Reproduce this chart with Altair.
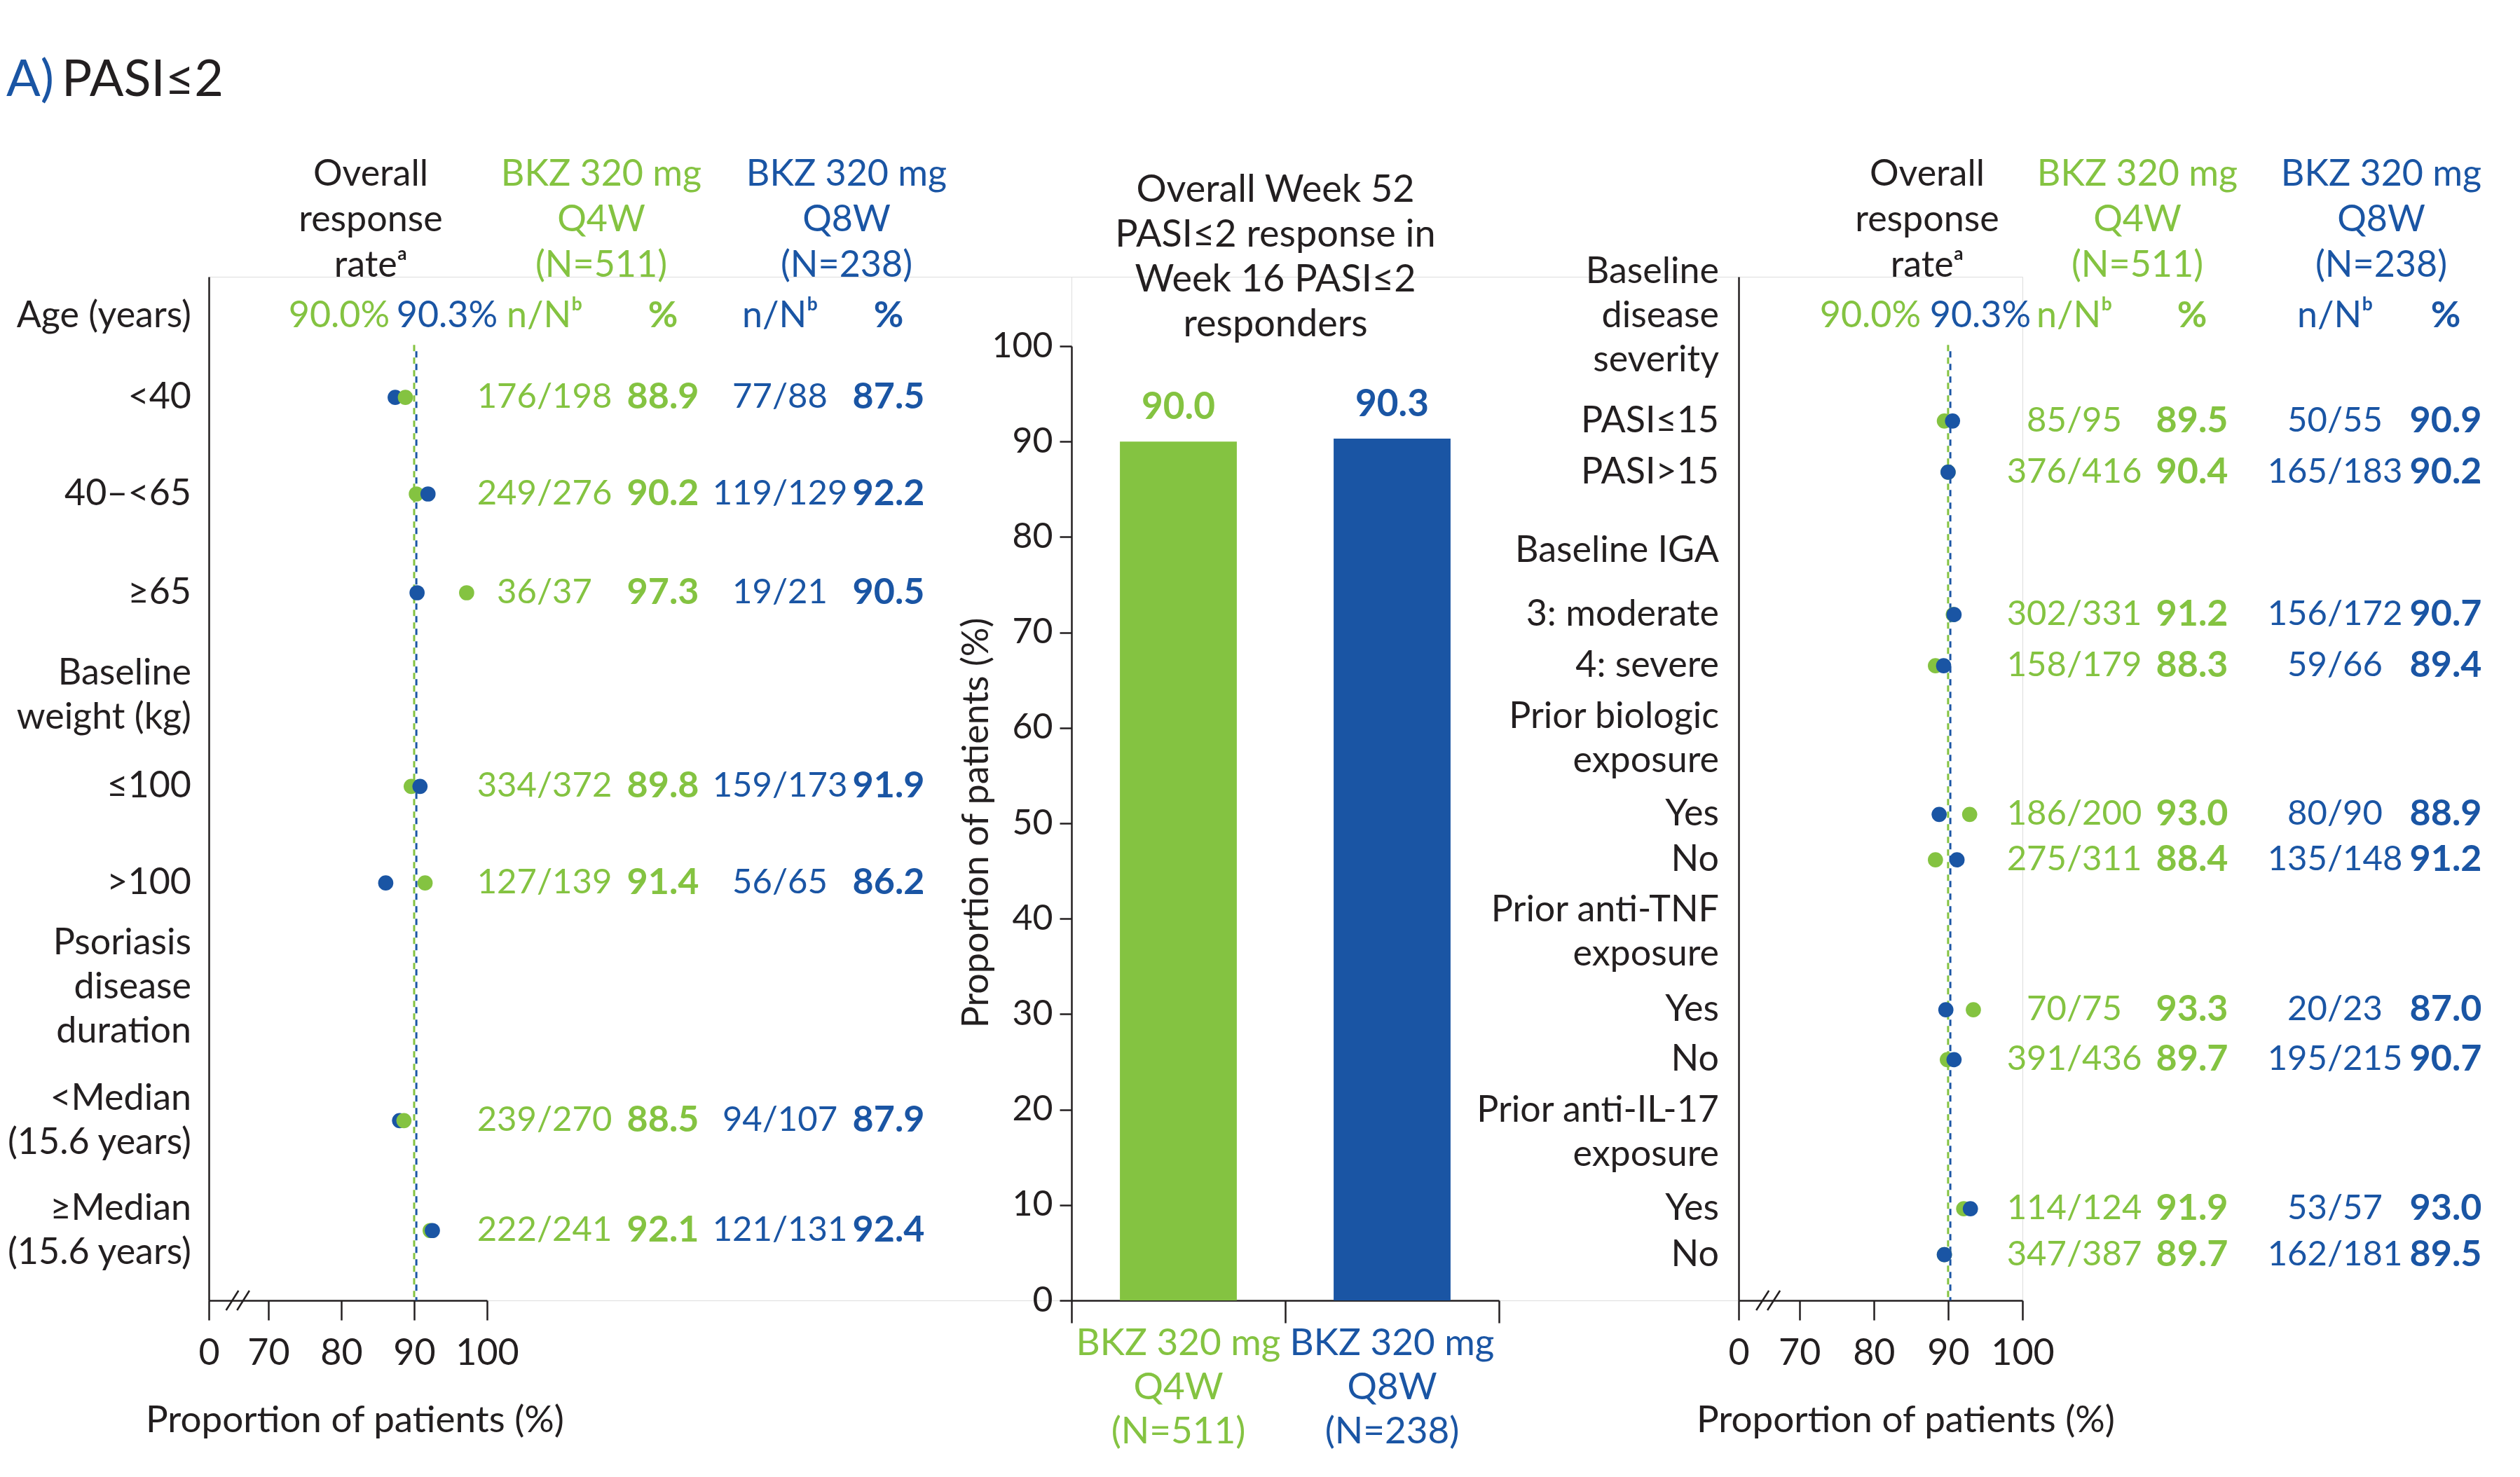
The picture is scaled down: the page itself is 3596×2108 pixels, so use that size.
import altair as alt
import pandas as pd

GREEN = "#84C341"
BLUE = "#1A55A4"
BLACK = "#231F20"
FONT = "Lato"

# ------------------------------------------------------------------ data
overall_rate = {"Q4W": 90.0, "Q8W": 90.3}

arm_keys = ["Q4W", "Q8W"]
arm_labels = ["BKZ 320 mg\nQ4W\n(N=511)", "BKZ 320 mg\nQ8W\n(N=238)"]
week52_response = [90.0, 90.3]

left_groups = ["Age (years)", "Baseline\nweight (kg)", "Psoriasis\ndisease\nduration"]
left_labels = ["<40", "40–<65", "≥65", "≤100", ">100",
               "<Median\n(15.6 years)", "≥Median\n(15.6 years)"]
left_q4w_nN = ["176/198", "249/276", "36/37", "334/372", "127/139", "239/270", "222/241"]
left_q4w_pct = [88.9, 90.2, 97.3, 89.8, 91.4, 88.5, 92.1]
left_q8w_nN = ["77/88", "119/129", "19/21", "159/173", "56/65", "94/107", "121/131"]
left_q8w_pct = [87.5, 92.2, 90.5, 91.9, 86.2, 87.9, 92.4]
# dot positions as drawn in the figure
left_q4w_dot = [88.8, 90.3, 97.2, 89.6, 91.5, 88.6, 92.2]
left_q8w_dot = [87.4, 91.9, 90.4, 90.8, 86.1, 88.0, 92.5]

right_groups = ["Baseline\ndisease\nseverity", "Baseline IGA", "Prior biologic\nexposure",
                "Prior anti-TNF\nexposure", "Prior anti-IL-17\nexposure"]
right_labels = ["PASI≤15", "PASI>15", "3: moderate", "4: severe",
                "Yes", "No", "Yes", "No", "Yes", "No"]
right_q4w_nN = ["85/95", "376/416", "302/331", "158/179", "186/200", "275/311",
                "70/75", "391/436", "114/124", "347/387"]
right_q4w_pct = [89.5, 90.4, 91.2, 88.3, 93.0, 88.4, 93.3, 89.7, 91.9, 89.7]
right_q8w_nN = ["50/55", "165/183", "156/172", "59/66", "80/90", "135/148",
                "20/23", "195/215", "53/57", "162/181"]
right_q8w_pct = [90.9, 90.2, 90.7, 89.4, 88.9, 91.2, 87.0, 90.7, 93.0, 89.5]
# dot positions as drawn in the figure
right_q4w_dot = [89.5, 90.0, 90.7, 88.3, 92.9, 88.3, 93.4, 89.9, 92.1, 89.5]
right_q8w_dot = [90.6, 90.0, 90.8, 89.4, 88.8, 91.2, 89.7, 90.8, 93.0, 89.5]

# ------------------------------------------------------------------ layout
# row slots in text-line units, counted from the top of the forest axis
left_row_slot = [2.71, 4.88, 7.10, 11.45, 13.62, 18.96, 21.43]
left_group_slot = [0.88, 9.40, 15.97]
right_row_slot = [3.24, 4.39, 7.59, 8.74, 12.08, 13.10, 16.47, 17.59, 20.94, 21.97]
right_group_slot = [0.88, 6.16, 10.38, 14.72, 19.23]

N_SLOTS = 23.0
PLOT_H = 1461
X_BREAK = 61.83          # left end of the broken axis, labelled "0"
REF_TOP = 1.53
FS = 52
LH = 63


def forest(labels, slots, q4n, q4p, q8n, q8p, q4d, q8d, groups, gslots,
           plot_w, panel_w, label_x, col_x, rate_x, head_x, axis_title_x,
           title=False):
    xs = alt.Scale(domain=[X_BREAK, 100], range=[0, plot_w], nice=False, zero=False)
    ys = alt.Scale(domain=[0, N_SLOTS], range=[0, PLOT_H], nice=False, zero=False)
    xax = alt.Axis(values=[X_BREAK, 70, 80, 90, 100],
                   labelExpr="datum.value < 65 ? '0' : datum.label",
                   labelFlush=False, labelOverlap=False,
                   tickSize=28, tickWidth=2.5, tickColor=BLACK,
                   domainColor=BLACK, domainWidth=2.5,
                   labelFont=FONT, labelFontSize=FS, labelColor=BLACK, labelPadding=22,
                   grid=False, title="Proportion of patients (%)",
                   titleFont=FONT, titleFontSize=53, titleFontWeight="normal",
                   titleColor=BLACK, titleX=axis_title_x, titleY=171,
                   titleAlign="center", titleBaseline="middle")
    yax = alt.Axis(labels=False, ticks=False, grid=False, title=None,
                   domainColor=BLACK, domainWidth=2.5)

    def X(f):
        return alt.X(f, scale=xs, axis=xax)

    def Y(f):
        return alt.Y(f, scale=ys, axis=yax)

    # dots
    recs = []
    for s, a, b in zip(slots, q4d, q8d):
        recs.append({"y": s, "value": a, "arm": "Q4W"})
        recs.append({"y": s, "value": b, "arm": "Q8W"})
    dots_df = pd.DataFrame(recs)
    dots = alt.Chart(dots_df).mark_circle(size=470, opacity=1).encode(
        x=X("value:Q"), y=Y("y:Q"),
        color=alt.Color("arm:N", scale=alt.Scale(domain=arm_keys, range=[GREEN, BLUE]),
                        legend=None),
        order=alt.Order("value:Q"),
    )

    # overall reference lines
    ref_g = alt.Chart(pd.DataFrame({"value": [overall_rate["Q4W"]], "y": [REF_TOP],
                                    "y2": [N_SLOTS]})).mark_rule(
        color=GREEN, strokeWidth=3, strokeDash=[9, 9]).encode(
        x=X("value:Q"), y=Y("y:Q"), y2="y2")
    ref_b = alt.Chart(pd.DataFrame({"value": [overall_rate["Q8W"]], "y": [REF_TOP],
                                    "y2": [N_SLOTS]})).mark_rule(
        color=BLUE, strokeWidth=3, strokeDash=[9, 9], strokeDashOffset=9).encode(
        x=X("value:Q"), y=Y("y:Q"), y2="y2")

    # axis break "//"
    brk_df = pd.DataFrame({"value": [64.2, 65.7], "value2": [65.9, 67.4],
                           "y": [N_SLOTS + 0.22, N_SLOTS + 0.22],
                           "y2": [N_SLOTS - 0.22, N_SLOTS - 0.22]})
    brk = alt.Chart(brk_df).mark_rule(color=BLACK, strokeWidth=2.5).encode(
        x=X("value:Q"), x2="value2", y=Y("y:Q"), y2="y2")

    tab = pd.DataFrame({"label": labels, "y": slots, "n4": q4n,
                        "p4": [f"{v:.1f}" for v in q4p], "n8": q8n,
                        "p8": [f"{v:.1f}" for v in q8p]})
    grp = pd.DataFrame({"label": groups, "y": gslots})
    hdr = pd.DataFrame({"y": [gslots[0]],
                        "g": [f"{overall_rate['Q4W']:.1f}%"],
                        "b": [f"{overall_rate['Q8W']:.1f}%"],
                        "nn": ["n/Nᵇ"], "pc": ["%"]})

    def txt(df, field, x, color, weight=400, align="center", size=FS):
        # multi-line texts are centred on their row
        nlines = df[field].astype(str).str.count("\n") + 1
        out = []
        for n in sorted(nlines.unique()):
            sub = df[nlines == n]
            out.append(alt.Chart(sub).mark_text(
                font=FONT, fontSize=size, fontWeight=weight, color=color, align=align,
                baseline="middle", lineBreak="\n", lineHeight=LH,
                dy=-(n - 1) * LH / 2).encode(
                x=alt.value(x), y=Y("y:Q"), text=f"{field}:N"))
        return out

    def head(text, x, color, y=-146):
        return alt.Chart(pd.DataFrame({"t": [text]})).mark_text(
            font=FONT, fontSize=FS, color=color, align="center", baseline="middle",
            lineBreak="\n", lineHeight=65).encode(
            x=alt.value(x), y=alt.value(y), text="t:N")

    layers = [ref_g, ref_b, brk, dots]
    layers += txt(tab, "label", label_x, BLACK, align="right")
    layers += txt(grp, "label", label_x, BLACK, align="right")
    layers += txt(tab, "n4", col_x[0], GREEN, size=49)
    layers += txt(tab, "p4", col_x[1], GREEN, weight=700)
    layers += txt(tab, "n8", col_x[2], BLUE, size=49)
    layers += txt(tab, "p8", col_x[3], BLUE, weight=700)
    layers += txt(hdr, "g", rate_x[0], GREEN)
    layers += txt(hdr, "b", rate_x[1], BLUE)
    layers += txt(hdr, "nn", col_x[0], GREEN)
    layers += txt(hdr, "pc", col_x[1], GREEN, weight=700)
    layers += txt(hdr, "nn", col_x[2], BLUE)
    layers += txt(hdr, "pc", col_x[3], BLUE, weight=700)
    layers += [
        head("Overall\nresponse\nrateᵃ", head_x[0], BLACK),
        head(arm_labels[0], head_x[1], GREEN),
        head(arm_labels[1], head_x[2], BLUE),
    ]
    if title:
        layers.append(alt.Chart(pd.DataFrame({"t": ["A)"]})).mark_text(
            font=FONT, fontSize=72, color=BLUE, align="left", baseline="middle").encode(
            x=alt.value(-289), y=alt.value(-280), text="t:N"))
        layers.append(alt.Chart(pd.DataFrame({"t": ["PASI≤2"]})).mark_text(
            font=FONT, fontSize=72, color=BLACK, align="left", baseline="middle").encode(
            x=alt.value(-210), y=alt.value(-280), text="t:N"))
    return alt.layer(*layers).properties(width=panel_w, height=PLOT_H)


left = forest(left_labels, left_row_slot, left_q4w_nN, left_q4w_pct, left_q8w_nN,
              left_q8w_pct, left_q4w_dot, left_q8w_dot, left_groups, left_group_slot,
              plot_w=397, panel_w=1231, label_x=-25,
              col_x=[479, 648, 815, 970], rate_x=[186, 340],
              head_x=[231, 560, 910], axis_title_x=208, title=True)

right = forest(right_labels, right_row_slot, right_q4w_nN, right_q4w_pct, right_q8w_nN,
               right_q8w_pct, right_q4w_dot, right_q8w_dot, right_groups, right_group_slot,
               plot_w=405, panel_w=405, label_x=-28,
               col_x=[479, 647, 851, 1009], rate_x=[188, 345],
               head_x=[269, 569, 917], axis_title_x=238)

# ------------------------------------------------------------------ middle bar chart
bar_df = pd.DataFrame({"arm": arm_keys, "label": arm_labels, "value": week52_response,
                       "text": [f"{v:.1f}" for v in week52_response],
                       "base": [0, 0]})
mx = alt.X("arm:N", sort=arm_keys,
           scale=alt.Scale(domain=arm_keys, range=[0, 610], paddingInner=0, paddingOuter=0),
           axis=alt.Axis(labels=False, title=None, tickBand="extent", tickSize=32,
                         tickWidth=2.5, tickColor=BLACK, domainColor=BLACK, domainWidth=2.5,
                         grid=False))
mys = alt.Scale(domain=[0, 100], range=[PLOT_H, 99], nice=False, zero=True)
myax = alt.Axis(values=list(range(0, 101, 10)), tickSize=17, tickWidth=2.5, tickColor=BLACK,
                domainColor=BLACK, domainWidth=2.5, labelFont=FONT, labelFontSize=50,
                labelColor=BLACK, labelPadding=10, grid=False,
                title="Proportion of patients (%)", titleFont=FONT, titleFontSize=FS,
                titleFontWeight="normal", titleColor=BLACK, titleX=-136, titleY=779,
                titleAlign="center", titleBaseline="middle")
mcolor = alt.Color("arm:N", scale=alt.Scale(domain=arm_keys, range=[GREEN, BLUE]), legend=None)
mbase = alt.Chart(bar_df)
bars = mbase.mark_bar(width=alt.RelativeBandSize(0.547)).encode(
    x=mx, y=alt.Y("value:Q", scale=mys, axis=myax), color=mcolor)
bar_vals = mbase.mark_text(font=FONT, fontSize=53, fontWeight=700, dy=-48,
                           baseline="middle").encode(
    x=mx, y=alt.Y("value:Q", scale=mys, axis=myax), text="text:N", color=mcolor)
cat_labels = mbase.mark_text(font=FONT, fontSize=53, lineBreak="\n", lineHeight=63,
                             dy=62, baseline="middle").encode(
    x=mx, y=alt.Y("base:Q", scale=mys, axis=myax), text="label:N", color=mcolor)
mid_title = alt.Chart(pd.DataFrame(
    {"t": ["Overall Week 52\nPASI≤2 response in\nWeek 16 PASI≤2\nresponders"]})).mark_text(
    font=FONT, fontSize=54, color=BLACK, align="center", baseline="middle",
    lineBreak="\n", lineHeight=64).encode(x=alt.value(291), y=alt.value(-123), text="t:N")
mid = alt.layer(bars, bar_vals, cat_labels, mid_title).properties(width=952, height=PLOT_H)

chart = alt.hconcat(left, mid, right, spacing=0, bounds="flush").properties(
    padding={"left": 0, "top": 70, "right": 10, "bottom": 10},
    background="white",
).configure_view(stroke=None).configure(font=FONT)

chart.save("out.html", embed_options={"renderer": "svg", "actions": False})
